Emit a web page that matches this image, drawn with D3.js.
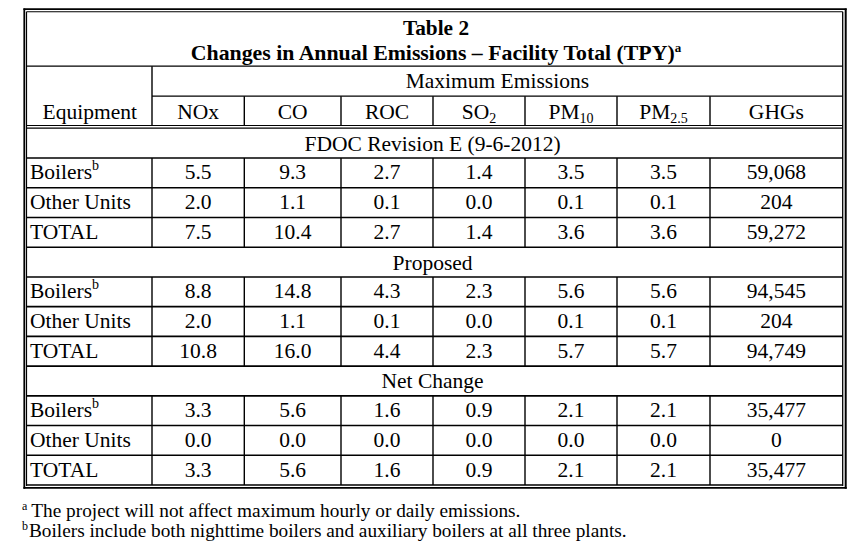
<!DOCTYPE html>
<html>
<head>
<meta charset="utf-8">
<script src="https://cdn.jsdelivr.net/npm/d3@7"></script>
<style>
  body { margin: 0; background: #fff; }
  text { font-family: "Liberation Serif", "Times New Roman", serif; fill: #000; }
</style>
</head>
<body>
<div id="table_area"></div>
<script>
// table content
const pollutants = ["NOx", "CO", "ROC", "SO2", "PM10", "PM2.5", "GHGs"];
const sections = ["FDOC Revision E (9-6-2012)", "Proposed", "Net Change"];
const equipment = ["Boilers", "Other Units", "TOTAL"];

const fdocValues = [
    [5.5, 9.3, 2.7, 1.4, 3.5, 3.5, 59068],
    [2.0, 1.1, 0.1, 0.0, 0.1, 0.1, 204],
    [7.5, 10.4, 2.7, 1.4, 3.6, 3.6, 59272]
];
const proposedValues = [
    [8.8, 14.8, 4.3, 2.3, 5.6, 5.6, 94545],
    [2.0, 1.1, 0.1, 0.0, 0.1, 0.1, 204],
    [10.8, 16.0, 4.4, 2.3, 5.7, 5.7, 94749]
];
const netValues = [
    [3.3, 5.6, 1.6, 0.9, 2.1, 2.1, 35477],
    [0.0, 0.0, 0.0, 0.0, 0.0, 0.0, 0],
    [3.3, 5.6, 1.6, 0.9, 2.1, 2.1, 35477]
];

const footnotes = [
    { mark: "a", text: "The project will not affect maximum hourly or daily emissions." },
    { mark: "b", text: "Boilers include both nighttime boilers and auxiliary boilers at all three plants." }
];

const width = 851, height = 541;
const left = 26.5, right = 842.7;
// column edges: equipment column then one column per pollutant
const colEdges = [left, 152, 244.3, 341, 433, 525, 617, 710, right];

const svg = d3.select("#table_area")
    .append("svg")
    .attr("width", width)
    .attr("height", height);

// build rows: one section header row, then the three equipment rows
const sectionValues = [fdocValues, proposedValues, netValues];
const rows = [];
sections.forEach((s, si) => {
    rows.push({ id: "s" + si, type: "section", label: s });
    equipment.forEach((e, ei) => {
        rows.push({ id: "r" + si + ei, type: "data", label: e, values: sectionValues[si][ei] });
    });
});

const y = d3.scaleBand()
    .domain(rows.map(d => d.id))
    .range([128.3, 485])
    .padding(0);

const colCenter = i => (colEdges[i + 1] + colEdges[i + 2]) / 2;

const fmtNum = d3.format(".1f");
const fmtGhg = d3.format(",");

function line(x1, y1, x2, y2, w) {
    svg.append("line")
        .attr("x1", x1).attr("y1", y1)
        .attr("x2", x2).attr("y2", y2)
        .attr("stroke", "#000")
        .attr("stroke-width", w);
}

// outer double border
line(24.3, 8.5, 24.3, 488.8, 1.8);
line(23.4, 9.1, 846.7, 9.1, 1.6);
line(845.7, 8.5, 845.7, 488.8, 2);
line(23.4, 487.9, 846.7, 487.9, 1.8);
line(left, 11.8, left, 486, 1.2);
line(left, 11.8, right, 11.8, 1.1);
line(right, 11.8, right, 486, 1.3);

// header lines
line(left, 66.2, right, 66.2, 1.3);
line(colEdges[1], 96.2, right, 96.2, 1.2);
line(left, 125.5, right, 125.5, 1.2);
line(left, 128.2, right, 128.2, 1.2);
line(colEdges[1], 66.2, colEdges[1], 125.5, 1.4);
pollutants.forEach((p, i) => {
    if (i > 0) line(colEdges[i + 1], 96.2, colEdges[i + 1], 125.5, 1.4);
});

// row lines and cell dividers
rows.forEach(r => {
    const y1 = y(r.id), y2 = y1 + y.bandwidth();
    line(left, y2, right, y2, 1.6);
    if (r.type === "data") {
        colEdges.slice(1, -1).forEach(x => line(x, y1, x, y2, 1.4));
    }
});

// title
svg.append("text")
    .attr("x", 436).attr("y", 34.5)
    .attr("text-anchor", "middle")
    .style("font-size", "21.3px").style("font-weight", "bold")
    .text("Table 2");

const title2 = svg.append("text")
    .attr("x", 436).attr("y", 60)
    .attr("text-anchor", "middle")
    .style("font-size", "21.8px").style("font-weight", "bold");
title2.append("tspan").text("Changes in Annual Emissions \u2013 Facility Total (TPY)");
title2.append("tspan").attr("dy", -8).style("font-size", "13px").text("a");

svg.append("text")
    .attr("x", (colEdges[1] + right) / 2).attr("y", 88.3)
    .attr("text-anchor", "middle")
    .style("font-size", "21.5px")
    .text("Maximum Emissions");

svg.append("text")
    .attr("x", (left + colEdges[1]) / 2 + 0.5).attr("y", 119.3)
    .attr("text-anchor", "middle")
    .style("font-size", "21.5px")
    .text("Equipment");

// pollutant headers with subscripts
const subs = { "SO2": ["SO", "2"], "PM10": ["PM", "10"], "PM2.5": ["PM", "2.5"] };
svg.selectAll("text.head")
    .data(pollutants)
    .enter()
    .append("text")
    .attr("class", "head")
    .attr("x", (d, i) => colCenter(i))
    .attr("y", 119.3)
    .attr("text-anchor", "middle")
    .style("font-size", "21.5px")
    .each(function (d) {
        const t = d3.select(this);
        if (subs[d]) {
            t.append("tspan").text(subs[d][0]);
            t.append("tspan").attr("dy", 4).style("font-size", "14px").text(subs[d][1]);
        } else {
            t.text(d);
        }
    });

// section labels
svg.selectAll("text.section")
    .data(rows.filter(r => r.type === "section"))
    .enter()
    .append("text")
    .attr("class", "section")
    .attr("x", (left + right) / 2 - 2)
    .attr("y", d => y(d.id) + 22.3)
    .attr("text-anchor", "middle")
    .style("font-size", "21.5px")
    .text(d => d.label);

// row labels
const dataRows = rows.filter(r => r.type === "data");
svg.selectAll("text.label")
    .data(dataRows)
    .enter()
    .append("text")
    .attr("class", "label")
    .attr("x", 30)
    .attr("y", d => y(d.id) + 21.3)
    .style("font-size", "21.5px")
    .each(function (d) {
        const t = d3.select(this);
        t.append("tspan").text(d.label);
        if (d.label === "Boilers") {
            t.append("tspan").attr("dy", -9).style("font-size", "14px").text("b");
        }
    });

// values
dataRows.forEach(r => {
    svg.selectAll(null)
        .data(r.values)
        .enter()
        .append("text")
        .attr("x", (d, i) => colCenter(i))
        .attr("y", y(r.id) + 21.3)
        .attr("text-anchor", "middle")
        .style("font-size", "21.5px")
        .text((d, i) => i === pollutants.length - 1 ? fmtGhg(d) : fmtNum(d));
});

// footnotes
svg.selectAll("text.note")
    .data(footnotes)
    .enter()
    .append("text")
    .attr("class", "note")
    .attr("x", 22)
    .attr("y", (d, i) => 517 + i * 19.5)
    .style("font-size", "19.3px")
    .each(function (d) {
        const t = d3.select(this);
        t.append("tspan").attr("dy", -7).style("font-size", "12px").text(d.mark);
        t.append("tspan").attr("dy", 7).attr("dx", d.mark === "a" ? 4 : 1).text(d.text);
    });
</script>
</body>
</html>
